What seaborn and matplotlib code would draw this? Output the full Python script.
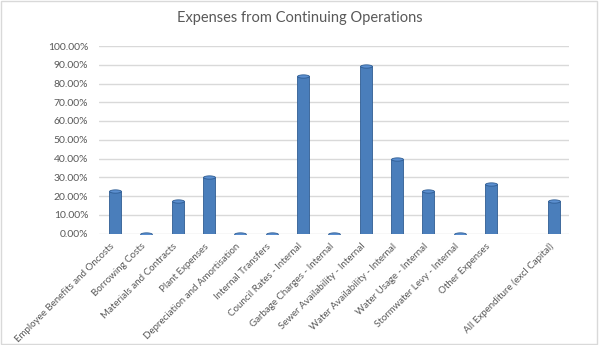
import matplotlib
matplotlib.use("Agg")
import matplotlib.pyplot as plt
import matplotlib.transforms as mtransforms
from matplotlib.path import Path
import numpy as np
import pandas as pd
import seaborn as sns

categories = [
    "Employee Benefits and Oncosts", "Borrowing Costs", "Materials and Contracts",
    "Plant Expenses", "Depreciation and Amortisation", "Internal Transfers",
    "Council Rates - Internal", "Garbage Charges - Internal",
    "Sewer Availability - Internal", "Water Availability - Internal",
    "Water Usage - Internal", "Stormwater Levy - Internal", "Other Expenses",
    " ", "All Expenditure (excl Capital)",
]
values = [0.225, 0.0, 0.175, 0.30, 0.0, 0.0, 0.84, 0.0, 0.895, 0.40,
          0.225, 0.0, 0.265, np.nan, 0.175]
yticks = [i / 10 for i in range(11)]

df = pd.DataFrame({"cat": categories, "val": values})

sns.set_theme(style="white")
plt.rcParams["font.family"] = ["Lato", "DejaVu Sans"]

fig = plt.figure(figsize=(5.99, 3.45), dpi=100)
ax = fig.add_axes([99.3 / 599, 1 - 233.5 / 345, 470 / 599, 187.5 / 345])

blue = "#4A7EBB"
edge = "#2F5D93"
sns.barplot(data=df, x="cat", y="val", ax=ax, color=blue, width=0.38,
            saturation=1, edgecolor=edge, linewidth=0.6, zorder=3)

# cylinder tops / zero discs
theta = np.linspace(0, 2 * np.pi, 40)
ell = Path(np.column_stack([np.cos(theta), 0.28 * np.sin(theta)]))
valid = df.dropna()
idx = [categories.index(c) for c in valid["cat"]]
ax.scatter(idx, valid["val"], marker=ell, s=72, color="#5B8FD0",
           edgecolor=edge, linewidth=0.6, zorder=4)

ax.set_ylim(0, 1.0)
ax.set_xlim(-0.5, len(categories) - 0.5)
ax.set_yticks(yticks)
ax.set_yticklabels([f"{t*100:.2f}%" for t in yticks])
ax.yaxis.grid(True, color="#D9D9D9", linewidth=1.0, zorder=0)
ax.set_axisbelow(True)
for s in ax.spines.values():
    s.set_visible(False)
ax.set_xlabel("")
ax.set_ylabel("")
ax.tick_params(axis="y", length=0, pad=8, labelsize=7.5, labelcolor="#595959")
ax.tick_params(axis="x", length=0, pad=6, labelsize=7, labelcolor="#595959")
ax.set_xticks(range(len(categories)))
ax.set_xticklabels(categories, rotation=45, ha="right", rotation_mode="anchor")
offset = mtransforms.ScaledTranslation(-5 / 100, 0, fig.dpi_scale_trans)
for lab in ax.get_xticklabels():
    lab.set_transform(lab.get_transform() + offset)

fig.text(0.5, 1 - 18 / 345, "Expenses from Continuing Operations",
         ha="center", va="center", fontsize=10.5, color="#595959")

fig.patches.append(plt.Rectangle((0.002, 0.003), 0.995, 0.993, transform=fig.transFigure,
                                 fill=False, edgecolor="#D9D9D9", linewidth=1))

fig.savefig("out.png", dpi=100)
